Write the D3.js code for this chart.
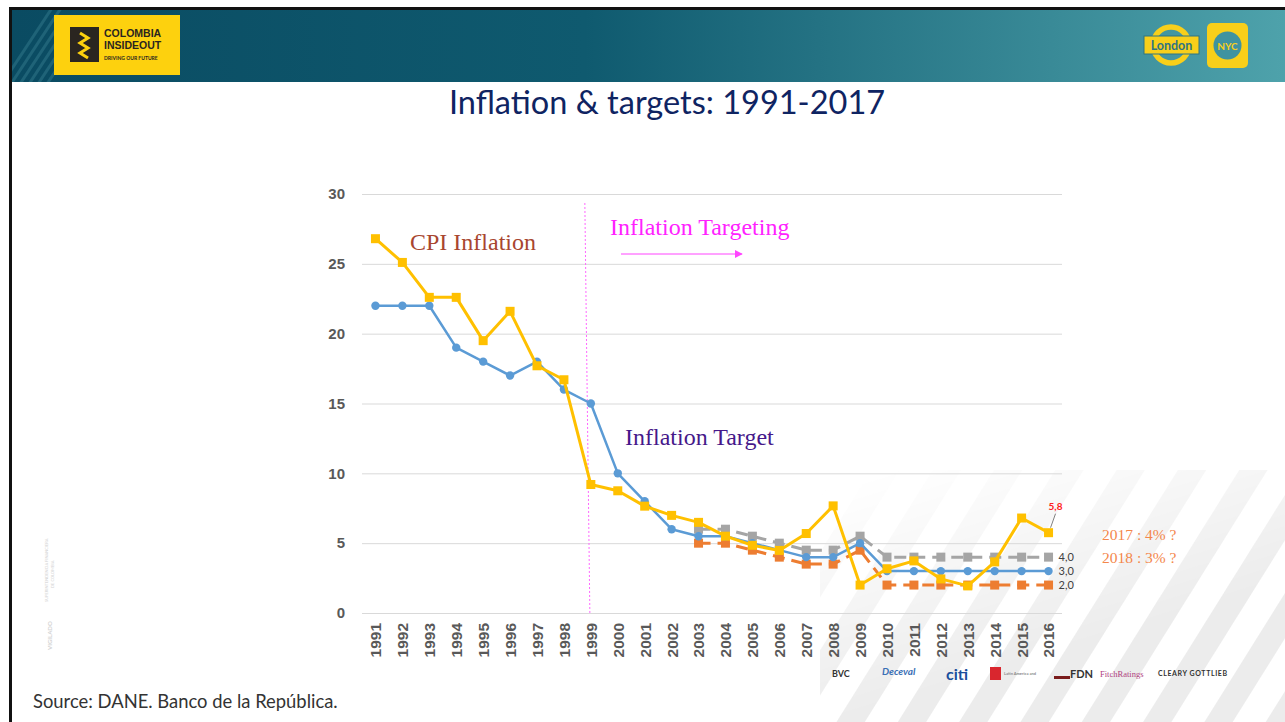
<!DOCTYPE html>
<html>
<head>
<meta charset="utf-8">
<script src="https://cdn.jsdelivr.net/npm/d3@7"></script>
<style>
  body { margin: 0; background: #fff; }
  svg { display: block; }
</style>
</head>
<body>
<div class="chart"></div>
<script>
// data
const years = ["1991","1992","1993","1994","1995","1996","1997","1998","1999","2000","2001","2002","2003",
  "2004","2005","2006","2007","2008","2009","2010","2011","2012","2013","2014","2015","2016"];
const cpiInflation = [26.8, 25.1, 22.6, 22.6, 19.5, 21.6, 17.7, 16.7, 9.2, 8.75, 7.65, 6.99, 6.49,
  5.5, 4.85, 4.48, 5.69, 7.67, 2.0, 3.17, 3.73, 2.44, 1.94, 3.66, 6.8, 5.75];
const inflationTarget = [22, 22, 22, 19, 18, 17, 18, 16, 15, 10, 8, 6, 5.5,
  5.5, 5, 4.5, 4, 4, 5, 3, 3, 3, 3, 3, 3, 3];
const targetUpper = [null, null, null, null, null, null, null, null, null, null, null, null, 6,
  6, 5.5, 5, 4.5, 4.5, 5.5, 4, 4, 4, 4, 4, 4, 4];
const targetLower = [null, null, null, null, null, null, null, null, null, null, null, null, 5,
  5, 4.5, 4, 3.5, 3.5, 4.5, 2, 2, 2, 2, 2, 2, 2];
const yTicks = [0, 5, 10, 15, 20, 25, 30];
const endLabels = ["4,0", "3,0", "2,0"];
const lastCpiLabel = "5,8";
const outlook = ["2017 : 4% ?", "2018 : 3% ?"];
const targetingStart = "1999";

const width = 1285, height = 722;
const plot = {left: 362, right: 1062, top: 194, bottom: 613};

const svg = d3.select(".chart").append("svg")
    .attr("width", width)
    .attr("height", height)
    .attr("font-family", "Lato, 'Open Sans', sans-serif");

const defs = svg.append("defs");

// ---------- slide frame / header ----------
const hg = defs.append("linearGradient").attr("id", "hdr").attr("x1", 0).attr("x2", 1);
hg.append("stop").attr("offset", "0%").attr("stop-color", "#0a4b62");
hg.append("stop").attr("offset", "45%").attr("stop-color", "#0f5a6f");
hg.append("stop").attr("offset", "100%").attr("stop-color", "#4ea2ab");

svg.append("rect").attr("width", width).attr("height", height).attr("fill", "#fff");
svg.append("rect").attr("x", 9).attr("y", 7).attr("width", width - 9).attr("height", 3).attr("fill", "#111");
svg.append("rect").attr("x", 9).attr("y", 7).attr("width", 3).attr("height", height - 7).attr("fill", "#111");
svg.append("rect").attr("x", 12).attr("y", 10).attr("width", width - 12).attr("height", 72).attr("fill", "url(#hdr)");

// faint stripes at the left of the header
defs.append("clipPath").attr("id", "hdrLeft")
  .append("rect").attr("x", 12).attr("y", 10).attr("width", 50).attr("height", 72);
svg.append("g").attr("clip-path", "url(#hdrLeft)")
  .selectAll("line").data(d3.range(6)).join("line")
    .attr("x1", d => 2 + d * 9).attr("y1", 84)
    .attr("x2", d => 52 + d * 9).attr("y2", 8)
    .attr("stroke", "#2d7386").attr("stroke-width", 3).attr("opacity", 0.6);

// Colombia Inside Out logo
const logo = svg.append("g");
logo.append("rect").attr("x", 54).attr("y", 15).attr("width", 126).attr("height", 60).attr("fill", "#fdd10e");
logo.append("rect").attr("x", 70).attr("y", 27).attr("width", 29).attr("height", 35).attr("fill", "#2a2520");
logo.append("path").attr("d", "M80,33 l8,5 l-8,5 l8,5 l-8,5 l8,5")
  .attr("fill", "none").attr("stroke", "#fdd10e").attr("stroke-width", 3);
logo.append("text").attr("x", 104).attr("y", 37).attr("font-size", 10.5).attr("font-weight", 700)
  .attr("font-family", "'Liberation Sans Narrow', 'Liberation Sans', sans-serif").attr("fill", "#2a2520").text("COLOMBIA");
logo.append("text").attr("x", 104).attr("y", 49).attr("font-size", 10.5).attr("font-weight", 700)
  .attr("font-family", "'Liberation Sans Narrow', 'Liberation Sans', sans-serif").attr("fill", "#2a2520").text("INSIDEOUT");
logo.append("text").attr("x", 104).attr("y", 60).attr("font-size", 5).attr("font-weight", 700)
  .attr("fill", "#2a2520").text("DRIVING OUR FUTURE");

// London roundel and NYC badge
const ldn = svg.append("g");
ldn.append("circle").attr("cx", 1171).attr("cy", 45).attr("r", 18).attr("fill", "none")
  .attr("stroke", "#f8cf1a").attr("stroke-width", 5.5);
ldn.append("rect").attr("x", 1144).attr("y", 36).attr("width", 55).attr("height", 18).attr("fill", "#f8cf1a")
  .attr("stroke", "#2f7482").attr("stroke-width", 1);
ldn.append("text").attr("x", 1171.5).attr("y", 50).attr("text-anchor", "middle").attr("font-size", 12.5)
  .attr("font-weight", 700).attr("fill", "#2f7482").text("London");
const nyc = svg.append("g");
nyc.append("rect").attr("x", 1207).attr("y", 23).attr("width", 41).attr("height", 45).attr("rx", 5).attr("fill", "#f8cf1a");
nyc.append("circle").attr("cx", 1227.5).attr("cy", 45.5).attr("r", 14).attr("fill", "#3f93a0");
nyc.append("text").attr("x", 1227.5).attr("y", 49.5).attr("text-anchor", "middle").attr("font-size", 10)
  .attr("font-weight", 700).attr("fill", "#f8cf1a").text("NYC");

// title
svg.append("text")
    .attr("x", 667).attr("y", 114)
    .attr("text-anchor", "middle")
    .attr("font-size", 32.5)
    .attr("fill", "#0f2462")
    .text("Inflation & targets: 1991-2017");

// ---------- light diagonal stripes, bottom right ----------
const sp = defs.append("pattern").attr("id", "stripes").attr("patternUnits", "userSpaceOnUse")
  .attr("width", 52).attr("height", 52).attr("patternTransform", "rotate(32)");
sp.append("rect").attr("width", 24).attr("height", 52).attr("fill", "#ececec");
const mg = defs.append("linearGradient").attr("id", "fade")
  .attr("x1", 0.15).attr("y1", 0).attr("x2", 0.55).attr("y2", 0.7);
mg.append("stop").attr("offset", "0%").attr("stop-color", "#000");
mg.append("stop").attr("offset", "100%").attr("stop-color", "#fff");
defs.append("mask").attr("id", "fadeMask")
  .append("rect").attr("x", 820).attr("y", 470).attr("width", 465).attr("height", 252).attr("fill", "url(#fade)");
svg.append("rect").attr("x", 820).attr("y", 470).attr("width", 465).attr("height", 252)
  .attr("fill", "url(#stripes)").attr("mask", "url(#fadeMask)");

// ---------- chart ----------
const x = d3.scalePoint()
    .domain(years)
    .range([plot.left, plot.right])
    .padding(0.5);

const y = d3.scaleLinear()
    .domain([0, 30])
    .range([plot.bottom, plot.top]);

// gridlines + y labels
svg.append("g")
    .attr("transform", `translate(${plot.left},0)`)
    .call(d3.axisLeft(y).tickValues(yTicks).tickSize(-(plot.right - plot.left)).tickPadding(17))
    .call(g => g.select(".domain").remove())
    .call(g => g.selectAll(".tick line").attr("stroke", "#d9d9d9").attr("stroke-width", 1))
    .call(g => g.selectAll(".tick text")
        .attr("fill", "#595959").attr("font-size", 15).attr("font-weight", 700)
        .attr("font-family", "'Liberation Sans', Arial, sans-serif"));

// x labels, rotated
svg.append("g")
    .attr("transform", `translate(0,${plot.bottom})`)
    .call(d3.axisBottom(x).tickSize(0))
    .call(g => g.select(".domain").remove())
    .call(g => g.selectAll(".tick text")
        .attr("fill", "#595959").attr("font-size", 15.5).attr("font-weight", 700)
        .attr("font-family", "'Liberation Sans', Arial, sans-serif")
        .attr("text-anchor", "end")
        .attr("transform", "translate(0,10) rotate(-90)")
        .attr("x", 0).attr("y", 0).attr("dy", "0.35em"));

// inflation-targeting divider
const xt = x(targetingStart);
svg.append("line")
    .attr("x1", xt - 6).attr("y1", plot.top + 9)
    .attr("x2", xt - 1).attr("y2", plot.bottom)
    .attr("stroke", "#ff66ff").attr("stroke-width", 1).attr("stroke-dasharray", "2,2");

const pts = vals => years.map((yr, i) => ({yr, v: vals[i]})).filter(d => d.v != null);
const line = d3.line().x(d => x(d.yr)).y(d => y(d.v));

const series = [
  {vals: targetUpper, color: "#a5a5a5", dash: "12,7", marker: "square", w: 3},
  {vals: targetLower, color: "#ed7d31", dash: "12,7", marker: "square", w: 3},
  {vals: inflationTarget, color: "#5b9bd5", dash: null, marker: "circle", w: 2.5},
  {vals: cpiInflation, color: "#ffc000", dash: null, marker: "square", w: 3}
];

series.forEach(s => {
  const data = pts(s.vals);
  const g = svg.append("g");
  g.append("path")
      .datum(data)
      .attr("fill", "none")
      .attr("stroke", s.color)
      .attr("stroke-width", s.w)
      .attr("stroke-dasharray", s.dash)
      .attr("stroke-linejoin", "round")
      .attr("d", line);
  if (s.marker === "circle") {
    g.selectAll("circle").data(data).join("circle")
        .attr("cx", d => x(d.yr)).attr("cy", d => y(d.v)).attr("r", 4.2)
        .attr("fill", s.color);
  } else {
    g.selectAll("rect").data(data).join("rect")
        .attr("x", d => x(d.yr) - 4.5).attr("y", d => y(d.v) - 4.5)
        .attr("width", 9).attr("height", 9)
        .attr("fill", s.color);
  }
});

// end-of-series labels
const last = years[years.length - 1];
const lastVals = [targetUpper, inflationTarget, targetLower].map(a => a[a.length - 1]);
svg.append("g")
  .selectAll("text")
  .data(lastVals)
  .join("text")
    .attr("x", x(last) + 10)
    .attr("y", d => y(d))
    .attr("dy", "0.35em")
    .attr("font-size", 11)
    .attr("fill", "#404040")
    .text((d, i) => endLabels[i]);

const lastCpi = cpiInflation[cpiInflation.length - 1];
svg.append("line")
    .attr("x1", x(last) + 2).attr("y1", y(lastCpi) - 5)
    .attr("x2", x(last) + 7).attr("y2", y(lastCpi) - 19)
    .attr("stroke", "#7f7f7f").attr("stroke-width", 1);
svg.append("text")
    .attr("x", x(last) + 7).attr("y", y(lastCpi) - 23)
    .attr("text-anchor", "middle")
    .attr("font-size", 10).attr("font-weight", 700)
    .attr("fill", "#ff2020")
    .text(lastCpiLabel);

// outlook notes
svg.append("g")
  .selectAll("text")
  .data(outlook)
  .join("text")
    .attr("x", 1102)
    .attr("y", (d, i) => 540 + i * 23)
    .attr("font-family", "'Liberation Serif', 'Times New Roman', serif")
    .attr("font-size", 15.5)
    .attr("fill", "#f4874b")
    .text(d => d);

// chart annotations
const serif = "'Liberation Serif', 'Times New Roman', serif";
svg.append("text").attr("x", 410).attr("y", 250).attr("font-family", serif).attr("font-size", 24)
  .attr("fill", "#a8462f").text("CPI Inflation");
svg.append("text").attr("x", 610).attr("y", 235).attr("font-family", serif).attr("font-size", 24)
  .attr("fill", "#ff22ff").text("Inflation Targeting");
svg.append("text").attr("x", 625).attr("y", 445).attr("font-family", serif).attr("font-size", 24)
  .attr("fill", "#46188a").text("Inflation Target");

defs.append("marker").attr("id", "arrow").attr("viewBox", "0 0 10 10")
  .attr("refX", 9).attr("refY", 5).attr("markerWidth", 8).attr("markerHeight", 8)
  .attr("markerUnits", "userSpaceOnUse").attr("orient", "auto")
  .append("path").attr("d", "M0,0 L10,5 L0,10 z").attr("fill", "#ff44ff");
svg.append("line").attr("x1", 621).attr("y1", 254).attr("x2", 742).attr("y2", 254)
  .attr("stroke", "#ff44ff").attr("stroke-width", 1).attr("marker-end", "url(#arrow)");

// ---------- footer ----------
svg.append("text")
    .attr("x", 33).attr("y", 708)
    .attr("font-size", 18.4)
    .attr("fill", "#333")
    .text("Source: DANE. Banco de la República.");

// faint "vigilado" side mark
const vig = svg.append("g").attr("transform", "translate(52,650) rotate(-90)").attr("fill", "#d4d4d4");
vig.append("text").attr("font-size", 6).attr("font-weight", 700).text("VIGILADO");
vig.append("text").attr("x", 48).attr("y", -4).attr("font-size", 4).text("SUPERINTENDENCIA FINANCIERA");
vig.append("text").attr("x", 62).attr("y", 2).attr("font-size", 4).text("DE COLOMBIA");

// sponsor strip
const sp2 = svg.append("g").attr("font-weight", 700);
sp2.append("text").attr("x", 832).attr("y", 677).attr("font-size", 9).attr("fill", "#333").text("BVC");
sp2.append("text").attr("x", 882).attr("y", 675).attr("font-size", 10).attr("font-style", "italic").attr("fill", "#3a6fb5").text("Deceval");
sp2.append("text").attr("x", 946).attr("y", 680).attr("font-size", 16).attr("fill", "#1a4f9c").text("citi");
sp2.append("rect").attr("x", 990).attr("y", 667).attr("width", 11).attr("height", 13).attr("fill", "#d9262e");
sp2.append("text").attr("x", 1004).attr("y", 675).attr("font-size", 4).attr("fill", "#888").text("Latin America and");
sp2.append("rect").attr("x", 1054).attr("y", 676).attr("width", 16).attr("height", 3).attr("fill", "#7a1c1c");
sp2.append("text").attr("x", 1070).attr("y", 678).attr("font-size", 11).attr("fill", "#333").text("FDN");
sp2.append("text").attr("x", 1100).attr("y", 677).attr("font-size", 8.5).attr("font-weight", 400)
  .attr("font-family", serif).attr("fill", "#b04080").text("FitchRatings");
sp2.append("text").attr("x", 1158).attr("y", 676).attr("font-size", 7).attr("letter-spacing", 0.6)
  .attr("fill", "#333").text("CLEARY GOTTLIEB");
</script>
</body>
</html>
